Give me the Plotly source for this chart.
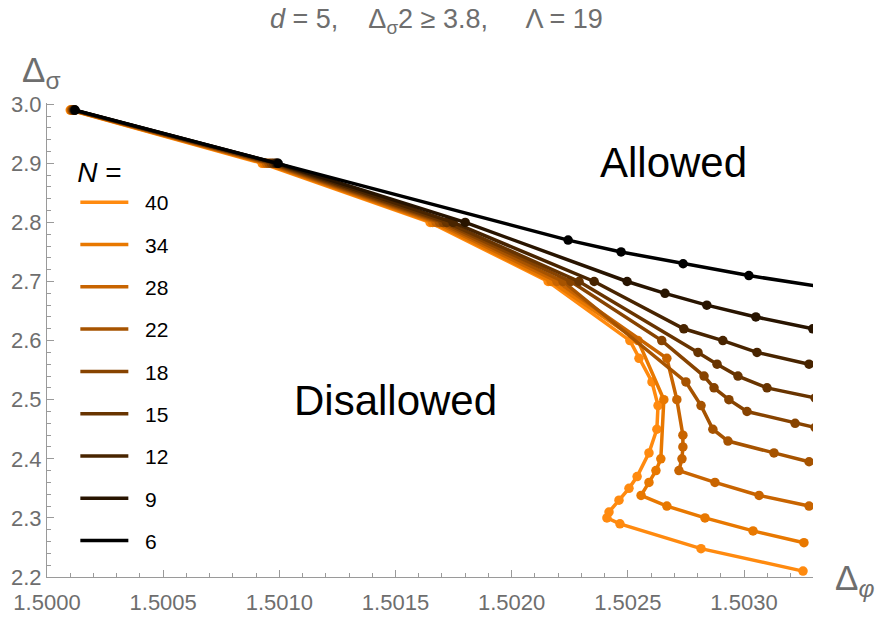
import plotly.graph_objects as go

# ---------------- data ----------------
N_values = [40, 34, 28, 22, 18, 15, 12, 9, 6]
colors = ["#FF8A0F", "#E87800", "#C86400", "#A65300", "#874300", "#683400", "#482400", "#281400", "#000000"]

x_N40 = [1.500100, 1.500926, 1.501649, 1.502157, 1.502509, 1.502548, 1.502604, 1.502630, 1.502625, 1.502591, 1.502540, 1.502505, 1.502462, 1.502419, 1.502410, 1.502466, 1.502815, 1.503254]
y_N40 = [2.99, 2.90, 2.80, 2.70, 2.60, 2.57, 2.53, 2.49, 2.45, 2.41, 2.37, 2.35, 2.33, 2.31, 2.30, 2.29, 2.248, 2.21]

x_N34 = [1.500103, 1.500935, 1.501660, 1.502170, 1.502544, 1.502655, 1.502642, 1.502621, 1.502591, 1.502557, 1.502668, 1.502832, 1.503039, 1.503258]
y_N34 = [2.99, 2.90, 2.80, 2.70, 2.60, 2.50, 2.40, 2.38, 2.36, 2.338, 2.32, 2.30, 2.278, 2.258]

x_N28 = [1.500106, 1.500945, 1.501675, 1.502195, 1.502668, 1.502711, 1.502737, 1.502737, 1.502733, 1.502720, 1.502875, 1.503065, 1.503280]
y_N28 = [2.99, 2.90, 2.80, 2.70, 2.57, 2.50, 2.44, 2.42, 2.40, 2.38, 2.36, 2.338, 2.32]

x_N22 = [1.500109, 1.500955, 1.501690, 1.502221, 1.502750, 1.502815, 1.502866, 1.502931, 1.503129, 1.503280]
y_N22 = [2.99, 2.90, 2.80, 2.70, 2.53, 2.49, 2.45, 2.43, 2.41, 2.395]

x_N18 = [1.500112, 1.500965, 1.501705, 1.502255, 1.502646, 1.502828, 1.502871, 1.502935, 1.503013, 1.503220, 1.503306]
y_N18 = [2.99, 2.90, 2.80, 2.70, 2.60, 2.54, 2.52, 2.50, 2.48, 2.46, 2.453]

x_N15 = [1.500115, 1.500975, 1.501720, 1.502290, 1.502802, 1.502884, 1.502974, 1.503099, 1.503306]
y_N15 = [2.99, 2.90, 2.80, 2.70, 2.58, 2.56, 2.54, 2.52, 2.503]

x_N12 = [1.500117, 1.500985, 1.501748, 1.502355, 1.502741, 1.502909, 1.503056, 1.503280]
y_N12 = [2.99, 2.90, 2.80, 2.70, 2.62, 2.60, 2.58, 2.56]

x_N9 = [1.500119, 1.500990, 1.501800, 1.502497, 1.502660, 1.502840, 1.503051, 1.503296]
y_N9 = [2.99, 2.90, 2.80, 2.70, 2.68, 2.66, 2.64, 2.62]

x_N6 = [1.500121, 1.500995, 1.502243, 1.502471, 1.502738, 1.503021, 1.503400]
y_N6 = [2.99, 2.90, 2.77, 2.75, 2.73, 2.71, 2.687]

x_ticks = [1.5000, 1.5005, 1.5010, 1.5015, 1.5020, 1.5025, 1.5030]
x_ticklabels = ["1.5000", "1.5005", "1.5010", "1.5015", "1.5020", "1.5025", "1.5030"]
y_ticks = [2.2, 2.3, 2.4, 2.5, 2.6, 2.7, 2.8, 2.9, 3.0]
y_ticklabels = ["2.2", "2.3", "2.4", "2.5", "2.6", "2.7", "2.8", "2.9", "3.0"]

series_x = [x_N40, x_N34, x_N28, x_N22, x_N18, x_N15, x_N12, x_N9, x_N6]
series_y = [y_N40, y_N34, y_N28, y_N22, y_N18, y_N15, y_N12, y_N9, y_N6]

# ---------------- figure ----------------
nb = "\u00a0"
fig = go.Figure()
for n, c, xs, ys in zip(N_values, colors, series_x, series_y):
    fig.add_trace(go.Scatter(x=xs, y=ys, mode="lines", name=nb * 2 + str(n), legendgroup=str(n),
                             line=dict(color=c, width=3.5), showlegend=True))
    fig.add_trace(go.Scatter(x=xs, y=ys, mode="markers", name=str(n), legendgroup=str(n),
                             marker=dict(color=c, size=9.5), showlegend=False))

gray = "#6e6e6e"
axis_gray = "#9a9a9a"
fig.update_layout(
    width=883, height=617,
    margin=dict(l=47, r=70, t=103, b=40),
    plot_bgcolor="white", paper_bgcolor="white",
    font=dict(family="Liberation Sans, Arial, sans-serif"),
    showlegend=True,
    legend=dict(
        x=0.037, y=0.91, xanchor="left", yanchor="top",
        title=dict(text="<i>N</i> =", font=dict(size=28, color="black")),
        font=dict(size=21, color="black"),
        tracegroupgap=12, bgcolor="rgba(0,0,0,0)",
        itemwidth=48,
    ),
    xaxis=dict(
        range=[1.5000, 1.503297], showgrid=False, zeroline=False, automargin=False,
        showline=True, linecolor=axis_gray, linewidth=1,
        tickvals=x_ticks, ticktext=x_ticklabels,
        ticks="inside", ticklen=7, tickcolor=axis_gray,
        tickfont=dict(size=22, color=gray), ticklabelstandoff=6,
        minor=dict(dtick=0.0001, tick0=1.5, ticks="inside", ticklen=4, tickcolor=axis_gray),
    ),
    yaxis=dict(
        range=[2.2, 3.002], showgrid=False, zeroline=False, automargin=False,
        showline=True, linecolor=axis_gray, linewidth=1,
        tickvals=y_ticks, ticktext=y_ticklabels,
        ticks="inside", ticklen=7, tickcolor=axis_gray,
        tickfont=dict(size=22, color=gray),
        minor=dict(dtick=0.02, tick0=2.2, ticks="inside", ticklen=4, tickcolor=axis_gray),
    ),
)

fig.add_annotation(text=f"<i>d</i> = 5,{nb*4}Δ<sub>σ</sub>2 ≥ 3.8,{nb*5}Λ = 19",
                   xref="paper", yref="paper", x=(436 - 47) / 766, y=(577 - 21) / 474,
                   showarrow=False, font=dict(size=27, color=gray), xanchor="center", yanchor="middle")
fig.add_annotation(text="Δ<sub>σ</sub>", xref="paper", yref="paper",
                   x=(20 - 47) / 766, y=(577 - 72) / 474, showarrow=False,
                   font=dict(size=35, color=gray), xanchor="left", yanchor="middle")
fig.add_annotation(text="Δ<sub><i>φ</i></sub>", xref="paper", yref="paper",
                   x=(833 - 47) / 766, y=(577 - 580) / 474, showarrow=False,
                   font=dict(size=35, color=gray), xanchor="left", yanchor="middle")
fig.add_annotation(text="Allowed", xref="paper", yref="paper",
                   x=(673 - 47) / 766, y=(577 - 162) / 474, showarrow=False,
                   font=dict(size=42, color="black"), xanchor="center", yanchor="middle")
fig.add_annotation(text="Disallowed", xref="paper", yref="paper",
                   x=(395 - 47) / 766, y=(577 - 400) / 474, showarrow=False,
                   font=dict(size=42, color="black"), xanchor="center", yanchor="middle")

fig.write_html("out.html")
